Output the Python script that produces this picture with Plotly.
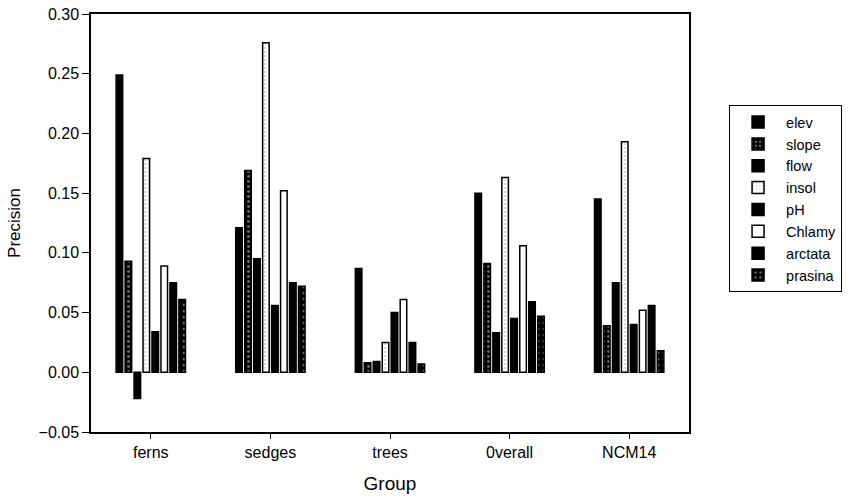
import plotly.graph_objects as go

groups = ["ferns", "sedges", "trees", "0verall", "NCM14"]
elev    = [0.249, 0.121, 0.087, 0.150, 0.145]
slope   = [0.093, 0.169, 0.008, 0.091, 0.039]
flow    = [-0.022, 0.095, 0.009, 0.033, 0.075]
insol   = [0.179, 0.276, 0.025, 0.163, 0.193]
pH      = [0.034, 0.056, 0.050, 0.045, 0.040]
Chlamy  = [0.089, 0.152, 0.061, 0.106, 0.052]
arctata = [0.075, 0.075, 0.025, 0.059, 0.056]
prasina = [0.061, 0.072, 0.007, 0.047, 0.018]

series = [
    ("elev", elev, dict(color="black")),
    ("slope", slope, dict(color="black", pattern=dict(shape=".", fgcolor="#dddddd", bgcolor="black", size=5, solidity=0.25))),
    ("flow", flow, dict(color="black")),
    ("insol", insol, dict(color="white", pattern=dict(shape=".", fgcolor="#9a9a9a", bgcolor="white", size=4, solidity=0.2))),
    ("pH", pH, dict(color="black")),
    ("Chlamy", Chlamy, dict(color="white")),
    ("arctata", arctata, dict(color="black")),
    ("prasina", prasina, dict(color="black", pattern=dict(shape=".", fgcolor="#cccccc", bgcolor="black", size=6, solidity=0.2))),
]

fig = go.Figure()
for name, vals, m in series:
    marker = dict(m)
    marker["line"] = dict(color="black", width=1.5)
    fig.add_trace(go.Bar(name=name, x=groups, y=vals, marker=marker))

font = "Liberation Sans, Arial, sans-serif"
fig.update_layout(
    width=863, height=501,
    margin=dict(l=91, r=174, t=14, b=69),
    paper_bgcolor="white", plot_bgcolor="white",
    barmode="group", bargap=0.4, bargroupgap=0.27,
    font=dict(family=font, size=16, color="black"),
    showlegend=True,
    legend=dict(x=1.067, y=0.782, xanchor="left", yanchor="top",
                bordercolor="black", borderwidth=1, bgcolor="white",
                font=dict(family=font, size=14.5, color="black"),
                tracegroupgap=0, itemwidth=46),
    xaxis=dict(title=dict(text="Group", font=dict(size=19), standoff=17),
               showline=True, linecolor="black", linewidth=1.5, mirror=True,
               ticks="outside", ticklen=5, tickcolor="black", showgrid=False,
               tickfont=dict(size=16), automargin=False),
    yaxis=dict(title=dict(text="Precision", font=dict(size=17), standoff=14),
               range=[-0.05, 0.30], dtick=0.05, tickformat=".2f",
               showline=True, linecolor="black", linewidth=1.5, mirror=True,
               ticks="outside", ticklen=7, tickcolor="black", showgrid=False,
               zeroline=False, tickfont=dict(size=16), automargin=False),
)

fig.write_html("out.html", config={"displayModeBar": False},
               post_script="document.body.style.margin='0';")
